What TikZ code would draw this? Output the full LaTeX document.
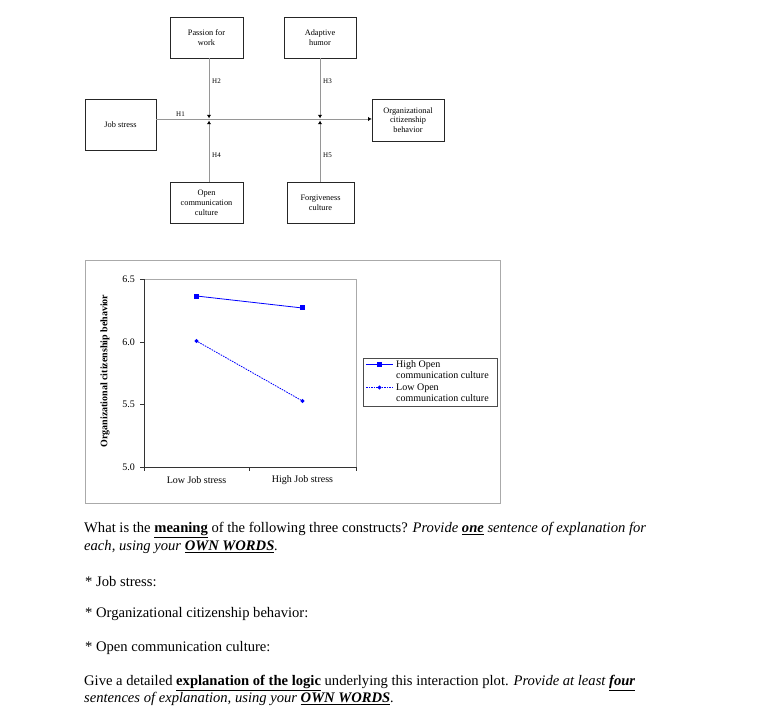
\documentclass[tikz,border=0pt]{standalone}
\usepackage{fontspec}
\setmainfont{Liberation Serif}
\usetikzlibrary{arrows.meta,shapes.geometric}
\definecolor{plotblue}{RGB}{0,0,255}
\definecolor{linkgray}{RGB}{150,150,150}
\definecolor{framegray}{RGB}{170,170,170}

\begin{document}
\begin{tikzpicture}[x=1pt, y=-1pt,
  modelbox/.style={draw=black!85, line width=0.7pt, align=center,
    font=\fontsize{8.3}{9.8}\selectfont, inner sep=1pt},
  hyplabel/.style={font=\fontsize{7}{7}\selectfont, inner sep=0pt, anchor=west},
  link/.style={draw=linkgray, line width=0.9pt},
  tip/.style={-{Latex[length=3.6pt,width=4.4pt,color=black]}},
  hisq/.style={rectangle, fill=plotblue, minimum size=5pt, inner sep=0pt},
  lodia/.style={diamond, fill=plotblue, minimum size=4.5pt, inner sep=0pt},
  hiline/.style={draw=plotblue, line width=0.8pt},
  loline/.style={draw=plotblue, line width=0.8pt, dash pattern=on 1.6pt off 1pt},
  ticklabel/.style={font=\fontsize{10}{12}\selectfont, inner sep=0pt},
  asktext/.style={anchor=west, inner sep=0pt, font=\fontsize{14.6}{17}\selectfont}]
\useasboundingbox (0,0) rectangle (758,722);
% Research model
\node[modelbox, minimum width=73pt, minimum height=41pt] (passion) at (206.5,37.5) {Passion for\\work};
\node[modelbox, minimum width=72pt, minimum height=41pt] (humor) at (320,37.5) {Adaptive\\humor};
\node[modelbox, minimum width=71pt, minimum height=51pt] (jobstress) at (120.5,124.5) {Job stress};
\node[modelbox, minimum width=72pt, minimum height=42pt] (ocb) at (408,120) {Organizational\\citizenship\\behavior};
\node[modelbox, minimum width=73pt, minimum height=41pt] (opencomm) at (206.5,202.5) {Open\\communication\\culture};
\node[modelbox, minimum width=67pt, minimum height=41pt] (forgive) at (320.5,202.5) {Forgiveness\\culture};
\coordinate (j1) at (209,119);
\coordinate (j2) at (320,119);
\coordinate (j1a) at (209,118.4);
\coordinate (j1b) at (209,120.6);
\coordinate (j2a) at (320,118.4);
\coordinate (j2b) at (320,120.6);
% Paths
\draw[link, tip] (jobstress.east |- j1) -- (ocb.west |- j1);
\draw[link, tip] (passion.south -| j1) -- (j1a);
\draw[link, tip] (opencomm.north -| j1) -- (j1b);
\draw[link, tip] (humor.south -| j2) -- (j2a);
\draw[link, tip] (forgive.north -| j2) -- (j2b);
\node[hyplabel] (h1) at (176,114) {H1};
\node[hyplabel] (h2) at (212,81) {H2};
\node[hyplabel] (h3) at (323,81) {H3};
\node[hyplabel] (h4) at (212,155) {H4};
\node[hyplabel] (h5) at (323,155) {H5};
% Interaction plot
\draw[framegray, line width=0.9pt] (85,260) rectangle (500,503);
\node[rotate=90, font=\bfseries\fontsize{10}{12}\selectfont] (ylab) at (105,371) {Organizational citizenship behavior};
\begin{scope}[shift={(144,467)}, x=1pt, y=125pt]
  % Plot area
  \draw[framegray, line width=0.7pt] (0,1.5) -- (212,1.5) -- (212,0);
  \draw[black!80, line width=0.7pt] (0,1.5) -- (0,0) -- (212,0);
  \foreach \v/\lab in {0/5.0, 0.5/5.5, 1/6.0, 1.5/6.5} {
    \draw[black!80, line width=0.7pt] (-4,\v) -- (0,\v);
    \node[ticklabel, anchor=east] at (-9,\v) {\lab};
  }
  \foreach \x in {0,105,212}
    \draw[black!80, line width=0.7pt] (\x,0) -- (\x,-0.032);
  \node[ticklabel] (lowjs) at (52.5,-0.105) {Low Job stress};
  \node[ticklabel] (highjs) at (158.5,-0.105) {High Job stress};
  % Data
  \node[hisq] (hi1) at (52.5,1.368) {};
  \node[hisq] (hi2) at (158.5,1.272) {};
  \node[lodia] (lo1) at (52.5,1.008) {};
  \node[lodia] (lo2) at (158.5,0.528) {};
  \draw[hiline] (hi1) -- (hi2);
  \draw[loline] (lo1) -- (lo2);
\end{scope}
% Legend
\draw[black!70, line width=0.6pt] (363,358) rectangle (497,406);
\coordinate (lh1) at (366,364.5);
\coordinate (lh2) at (393,364.5);
\coordinate (ll1) at (366,387.5);
\coordinate (ll2) at (393,387.5);
\draw[hiline] (lh1) -- (lh2);
\draw[loline] (ll1) -- (ll2);
\node[hisq] (leghi) at (379.5,364.5) {};
\node[lodia] (leglo) at (379.5,387.5) {};
\node[ticklabel, anchor=west, align=left, font=\fontsize{10}{11}\selectfont] (hitext) at (396,370) {High Open\\communication culture};
\node[ticklabel, anchor=west, align=left, font=\fontsize{10}{11}\selectfont] (lotext) at (396,393) {Low Open\\communication culture};
% Questions
\node[asktext] (q1) at (84,530) {What is the \underline{\textbf{meaning}} of the following three constructs? \textit{Provide \underline{\textbf{one}} sentence of explanation for}};
\node[asktext] (q1b) at (84,547) {\textit{each, using your \underline{\textbf{OWN WORDS}}.}};
\node[asktext] (q2) at (85,582) {* Job stress:};
\node[asktext] (q3) at (85,614) {* Organizational citizenship behavior:};
\node[asktext] (q4) at (85,648) {* Open communication culture:};
\node[asktext] (q5) at (84,683) {Give a detailed \underline{\textbf{explanation of the logic}} underlying this interaction plot. \textit{Provide at least \underline{\textbf{four}}}};
\node[asktext] (q5b) at (84,699) {\textit{sentences of explanation, using your \underline{\textbf{OWN WORDS}}.}};
\end{tikzpicture}
\end{document}
